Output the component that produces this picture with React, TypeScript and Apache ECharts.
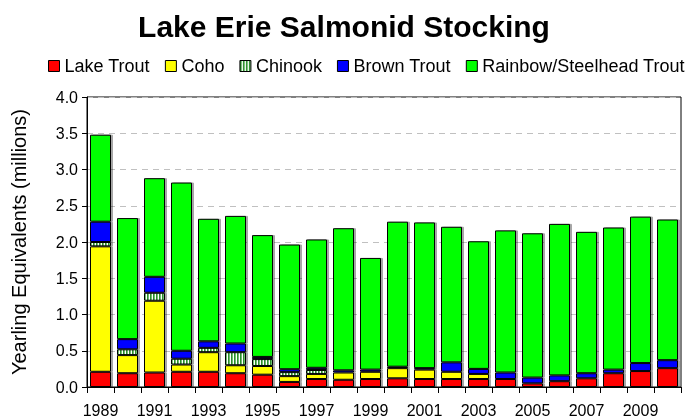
import React, { useEffect, useRef } from "react";
import * as echarts from "echarts";

const years = ["1989","1990","1991","1992","1993","1994","1995","1996","1997","1998","1999","2000","2001","2002","2003","2004","2005","2006","2007","2008","2009","2010"];
const lakeTrout = [0.21,0.19,0.20,0.21,0.21,0.19,0.17,0.07,0.11,0.10,0.11,0.12,0.11,0.11,0.11,0.11,0.05,0.08,0.12,0.19,0.22,0.26];
const coho = [1.73,0.25,0.99,0.10,0.27,0.11,0.12,0.08,0.07,0.10,0.10,0.14,0.13,0.10,0.07,0,0,0,0,0,0,0];
const chinook = [0.06,0.08,0.11,0.08,0.06,0.18,0.095,0.055,0.055,0,0,0,0,0,0,0,0,0,0,0,0,0];
const brownTrout = [0.28,0.14,0.22,0.11,0.09,0.12,0.03,0.04,0.03,0.03,0.03,0.02,0.02,0.13,0.07,0.09,0.08,0.08,0.07,0.05,0.11,0.11];
const rainbow = [1.20,1.67,1.36,2.32,1.69,1.76,1.68,1.72,1.77,1.96,1.54,2.00,2.01,1.87,1.76,1.96,1.99,2.09,1.95,1.96,2.02,1.94];

const seriesNames = ["Lake Trout", "Coho", "Chinook", "Brown Trout", "Rainbow/Steelhead Trout"];
const yTicks = { min: 0, max: 4, interval: 0.5 };

const FONT = '"Liberation Sans", Arial, sans-serif';

export default function App() {
  const ref = useRef<HTMLDivElement>(null);
  useEffect(() => {
    document.body.style.margin = "0";
    if (!ref.current) return;
    const chart = echarts.init(ref.current, null, { renderer: "svg" });

    const cv = document.createElement("canvas");
    cv.width = 3;
    cv.height = 1;
    const ctx = cv.getContext("2d")!;
    ctx.fillStyle = "#ffffff";
    ctx.fillRect(0, 0, 3, 1);
    ctx.fillStyle = "#2e8b2e";
    ctx.fillRect(0, 0, 1, 1);
    ctx.fillStyle = "#6fbf6f";
    ctx.fillRect(1, 0, 1, 1);
    const chinookPattern: any = { image: cv, repeat: "repeat" };

    const colors: any[] = ["#ff0000", "#ffff00", chinookPattern, "#0000ff", "#00ff00"];
    const dataSets = [lakeTrout, coho, chinook, brownTrout, rainbow];

    chart.setOption({
      animation: false,
      title: {
        text: "Lake Erie Salmonid Stocking",
        left: "center",
        top: 11,
        padding: 0,
        textStyle: { fontFamily: FONT, fontSize: 30, fontWeight: "bold", color: "#000" },
      },
      legend: {
        left: 48,
        top: 57,
        padding: 0,
        itemWidth: 11,
        itemHeight: 11,
        itemGap: 15,
        icon: "rect",
        selectedMode: false,
        data: seriesNames,
        itemStyle: { borderColor: "#000", borderWidth: 1, shadowBlur: 0, shadowOffsetX: 0, shadowColor: "transparent" },
        textStyle: { fontFamily: FONT, fontSize: 18, color: "#000" },
      },
      grid: {
        left: 87,
        right: 7,
        top: 97,
        bottom: 33,
        show: true,
        borderColor: "#000",
        borderWidth: 1,
        backgroundColor: "transparent",
      },
      xAxis: {
        type: "category",
        data: years,
        boundaryGap: true,
        axisLine: { lineStyle: { color: "#000", width: 1 } },
        axisTick: { show: true, interval: 0, length: 6, lineStyle: { color: "#000" } },
        axisLabel: { interval: 1, margin: 15, fontFamily: FONT, fontSize: 16, color: "#000" },
      },
      yAxis: {
        type: "value",
        min: yTicks.min,
        max: yTicks.max,
        interval: yTicks.interval,
        name: "Yearling Equivalents (millions)",
        nameLocation: "middle",
        nameGap: 58,
        nameTextStyle: { fontFamily: FONT, fontSize: 20, color: "#000" },
        axisLine: { show: true, lineStyle: { color: "#000", width: 1 } },
        axisTick: { show: true, length: 5, lineStyle: { color: "#000" } },
        axisLabel: {
          margin: 9,
          fontFamily: FONT,
          fontSize: 16,
          color: "#000",
          formatter: (v: number) => v.toFixed(1),
        },
        splitLine: { show: true, lineStyle: { color: "#c0c0c0", type: [6, 5], width: 1 } },
      },
      series: seriesNames.map((name, i) => ({
        name,
        type: "bar",
        stack: "total",
        barWidth: 21,
        data: dataSets[i],
        itemStyle: {
          color: colors[i],
          borderColor: "#000",
          borderWidth: 1,
          shadowColor: "rgba(0,0,0,0.35)",
          shadowOffsetX: 2,
          shadowOffsetY: 0,
          shadowBlur: 0,
        },
      })),
    });
    return () => chart.dispose();
  }, []);
  return <div ref={ref} style={{ position: "fixed", left: 0, top: 0, width: 688, height: 420 }} />;
}
